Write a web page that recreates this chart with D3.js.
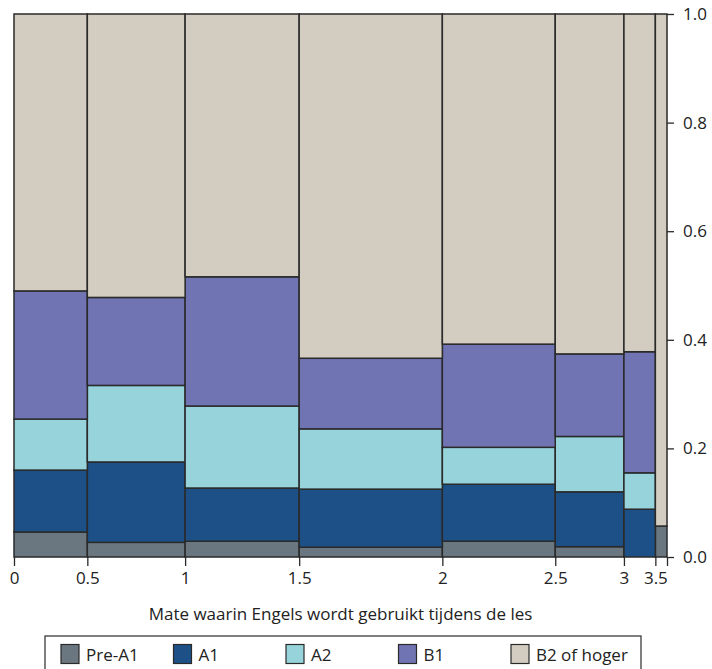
<!DOCTYPE html>
<html>
<head>
<meta charset="utf-8">
<script src="https://cdn.jsdelivr.net/npm/d3@7"></script>
<style>
  body { margin: 0; background: #fff; }
  text { font-family: 'Open Sans', 'Noto Sans', sans-serif; fill: #222; }
</style>
</head>
<body>
<div id="chart"></div>
<script>
// categories on the x axis (share of English used in class)
let categories = ['0', '0.5', '1', '1.5', '2', '2.5', '3', '3.5']
// number of respondents per category (column widths)
let counts = [63, 84, 98, 123, 97, 59, 27, 10]

let levels = ['Pre-A1', 'A1', 'A2', 'B1', 'B2 of hoger']
let preA1 = [0.046, 0.027, 0.029, 0.018, 0.029, 0.019, 0.000, 0.057]
let a1 = [0.114, 0.148, 0.098, 0.107, 0.105, 0.101, 0.088, 0.000]
let a2 = [0.094, 0.141, 0.151, 0.111, 0.068, 0.102, 0.067, 0.000]
let b1 = [0.236, 0.162, 0.238, 0.130, 0.190, 0.152, 0.223, 0.000]
let b2 = [0.510, 0.522, 0.484, 0.634, 0.608, 0.626, 0.622, 0.943]

let yTicks = [0, 0.2, 0.4, 0.6, 0.8, 1.0]

let colors = ['#6b7780', '#1d5086', '#96d3da', '#7174b3', '#d3ccc0']

let margin = { top: 14, left: 14, right: 45, bottom: 112 }
let width = 712 - margin.left - margin.right
let height = 669 - margin.top - margin.bottom

let svg = d3
  .select('#chart')
  .append('svg')
  .attr('width', 712)
  .attr('height', 669)

let g = svg.append('g')
  .attr('transform', `translate(${margin.left},${margin.top})`)

// build the table
let series = [preA1, a1, a2, b1, b2]
let total = d3.sum(counts)
let starts = counts.map((d, i) => d3.sum(counts.slice(0, i)))

let rows = categories.map((c, i) => {
  let row = { cat: c, start: starts[i], n: counts[i] }
  levels.forEach((l, j) => { row[l] = series[j][i] })
  return row
})

let stacked = d3.stack().keys(levels)(rows)

let xScale = d3.scaleLinear().domain([0, total]).range([0, width])
let yScale = d3.scaleLinear().domain([0, 1]).range([height, 0])

stacked.forEach((layer, j) => {
  g.selectAll('.seg-' + j)
    .data(layer)
    .enter()
    .append('rect')
    .attr('class', 'seg-' + j)
    .attr('x', d => xScale(d.data.start))
    .attr('width', d => xScale(d.data.start + d.data.n) - xScale(d.data.start))
    .attr('y', d => yScale(d[1]))
    .attr('height', d => yScale(d[0]) - yScale(d[1]))
    .attr('fill', colors[j])
    .attr('stroke', '#2a2a2a')
    .attr('stroke-width', 1.5)
})

// x axis: labels at the left edge of each column
let xAxis = d3.axisBottom(xScale)
  .tickValues(starts.concat([total]))
  .tickFormat((d, i) => categories[i] || '')
  .tickSize(9)
  .tickPadding(6)

g.append('g')
  .attr('class', 'x-axis')
  .attr('transform', `translate(0,${height})`)
  .call(xAxis)
  .call(s => s.select('.domain').remove())

let yAxis = d3.axisRight(yScale)
  .tickValues(yTicks)
  .tickFormat(d3.format('.1f'))
  .tickSize(7)
  .tickPadding(9)

g.append('g')
  .attr('class', 'y-axis')
  .attr('transform', `translate(${width},0)`)
  .call(yAxis)
  .call(s => s.select('.domain').remove())

svg.selectAll('.tick line').attr('stroke', '#2a2a2a').attr('stroke-width', 1.3)
svg.selectAll('.tick text')
  .attr('font-size', 17)
  .style('font-family', "'Open Sans', 'Noto Sans', sans-serif")
  .attr('fill', '#222')

// axis title
svg.append('text')
  .attr('x', margin.left + width / 2)
  .attr('y', 620)
  .attr('text-anchor', 'middle')
  .attr('font-size', 17)
  .text('Mate waarin Engels wordt gebruikt tijdens de les')

// legend
let legend = svg.append('g')
  .attr('transform', 'translate(45,636)')

legend.append('rect')
  .attr('x', 0)
  .attr('y', 0)
  .attr('width', 596)
  .attr('height', 40)
  .attr('fill', 'none')
  .attr('stroke', '#2a2a2a')
  .attr('stroke-width', 1.2)

legend
  .selectAll('.legend-entry')
  .data(levels)
  .enter()
  .append('g')
  .attr('class', 'legend-entry')
  .attr('transform', (d, i) => `translate(${16 + i * 112.5},8.5)`)
  .each(function (d, i) {
    let e = d3.select(this)
    e.append('rect')
      .attr('width', 18)
      .attr('height', 19)
      .attr('fill', colors[i])
      .attr('stroke', '#2a2a2a')
      .attr('stroke-width', 1.2)
    e.append('text')
      .attr('x', 25)
      .attr('y', 16)
      .attr('font-size', 17)
      .text(d)
  })
</script>
</body>
</html>
